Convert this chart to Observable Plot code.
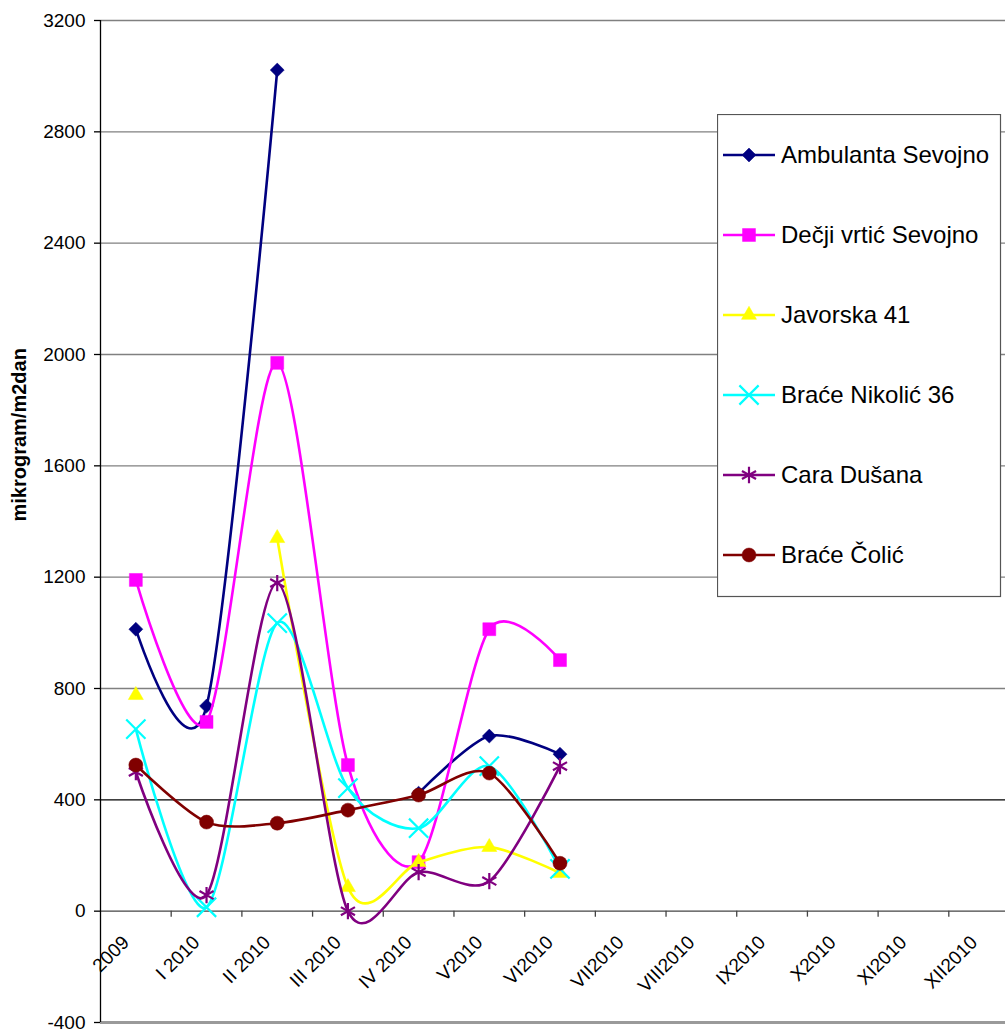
<!DOCTYPE html>
<html><head><meta charset="utf-8">
<script src="https://cdn.jsdelivr.net/npm/d3@7"></script>
<script src="https://cdn.jsdelivr.net/npm/@observablehq/plot@0.6"></script>
<style>
html,body{margin:0;padding:0;background:#fff;overflow:hidden;}
#wrap{position:relative;width:1005px;height:1032px;overflow:hidden;font-family:"Liberation Sans",Arial,sans-serif;}
#wrap > svg.plot-chart{max-width:none !important;}
#legend{position:absolute;left:717px;top:114px;}
</style></head><body><div id="wrap"></div>
<script>
const categories = ["2009","I 2010","II 2010","III 2010","IV 2010","V2010","VI2010","VII2010","VIII2010","IX2010","X2010","XI2010","XII2010"];
const seriesNames = ["Ambulanta Sevojno","Dečji vrtić Sevojno","Javorska 41","Braće Nikolić 36","Cara Dušana","Braće Čolić"];
const ambulantaSevojno = [1013, 737, 3022, null, 424, 629, 564];
const decjiVrticSevojno = [1190, 680, 1970, 525, 176, 1013, 902];
const javorska41 = [776, null, 1340, 86, 176, 230, 137];
const braceNikolic36 = [654, 14, 1035, 442, 298, 521, 152];
const caraDusana = [500, 58, 1179, 0, 140, 108, 521];
const braceColic = [525, 320, 316, 363, 417, 496, 172];
const yTicks = [-400, 0, 400, 800, 1200, 1600, 2000, 2400, 2800, 3200];
const colors = ["#000080","#FF00FF","#FFFF00","#00FFFF","#800080","#800000"];

const seriesValues = [ambulantaSevojno, decjiVrticSevojno, javorska41, braceNikolic36, caraDusana, braceColic];
const markerStyle = [
  {symbol: "diamond2", r: 6.3, filled: true},
  {symbol: "square", r: 7.3, filled: true},
  {symbol: "triangle", r: 5.6, filled: true},
  {symbol: "times", r: 8.8, filled: false},
  {symbol: "asterisk", r: 7.7, filled: false},
  {symbol: "circle", r: 7, filled: true}
];
const d3Symbols = {diamond2: d3.symbolDiamond2, square: d3.symbolSquare, triangle: d3.symbolTriangle, times: d3.symbolTimes, asterisk: d3.symbolAsterisk, circle: d3.symbolCircle};

const rows = seriesNames.flatMap((s, k) => seriesValues[k].map((v, i) => ({series: s, k, i, value: v})));

const tickLen = 400 * 6 / 111.3;
const boundaries = d3.range(1, 13).map(i => i - 0.5);
const font = "'Liberation Sans', Arial, sans-serif";
const smooth = d3.curveCardinal.tension(0.15);

const marks = [
  Plot.ruleY(yTicks.filter(v => v > 400), {y: d => d, stroke: "#808080", strokeWidth: 1.3}),
  Plot.ruleY([400], {stroke: "#000", strokeWidth: 1.1}),
  Plot.ruleY([0], {stroke: "#444", strokeWidth: 1.3}),
  Plot.ruleY([-400], {stroke: "#9a9a9a", strokeWidth: 3}),
  Plot.ruleX([-0.5], {stroke: "#000", strokeWidth: 1.3}),
  Plot.ruleX(boundaries, {x: d => d, y1: 0, y2: -tickLen, stroke: "#444", strokeWidth: 1.3}),
  Plot.axisY(yTicks, {label: null, tickFormat: d => String(d), tickSize: 6, tickPadding: 9, fontSize: 19, stroke: "#000", strokeWidth: 1.3}),
  Plot.text(categories, {x: (d, i) => i, y: 0, text: d => d, rotate: -45, textAnchor: "end", dx: -10, dy: 28, fontSize: 19, fill: "#000"}),
  Plot.text(["mikrogram/m2dan"], {frameAnchor: "left", dx: -81, rotate: -90, fontWeight: "bold", fontSize: 20, fill: "#000"})
];
seriesNames.forEach((s, k) => {
  const data = rows.filter(r => r.k === k);
  const m = markerStyle[k];
  marks.push(Plot.line(data, {x: "i", y: "value", stroke: colors[k], strokeWidth: 2.6, curve: smooth}));
  marks.push(Plot.dot(data.filter(r => r.value != null), {
    x: "i", y: "value", symbol: () => m.symbol, r: m.r,
    fill: m.filled ? colors[k] : "none",
    stroke: colors[k], strokeWidth: m.filled ? 0.5 : 2.2
  }));
});

const chart = Plot.plot({
  width: 1020, height: 1032,
  marginLeft: 100, marginRight: 1, marginTop: 20, marginBottom: 10,
  style: {fontFamily: font, fontSize: "19px", background: "#fff", overflow: "visible", maxWidth: "none"},
  x: {type: "linear", domain: [-0.5, 12.5], axis: null},
  y: {domain: [-400, 3200], axis: null},
  symbol: {type: "identity"},
  marks
});
const wrap = document.getElementById("wrap");
wrap.appendChild(chart);

// legend (overlay, like the original)
const lg = d3.select(wrap).append("svg").attr("id", "legend").attr("width", 285).attr("height", 484);
lg.append("rect").attr("x", 0.5).attr("y", 0.5).attr("width", 283).attr("height", 482)
  .attr("fill", "#fff").attr("stroke", "#555").attr("stroke-width", 1.2);
seriesNames.forEach((s, k) => {
  const y = 41 + k * 80;
  const g = lg.append("g");
  g.append("line").attr("x1", 6).attr("x2", 58).attr("y1", y).attr("y2", y).attr("stroke", colors[k]).attr("stroke-width", 2.6);
  const m = markerStyle[k];
  g.append("path").attr("transform", `translate(32,${y})`)
    .attr("d", d3.symbol().type(d3Symbols[m.symbol]).size(Math.PI * m.r * m.r)())
    .attr("fill", m.filled ? colors[k] : "none").attr("stroke", colors[k]).attr("stroke-width", m.filled ? 0.5 : 2.2);
  g.append("text").attr("x", 64).attr("y", y).attr("dy", "0.35em")
    .attr("font-family", font).attr("font-size", 24).attr("fill", "#000").text(s);
});
</script></body></html>
